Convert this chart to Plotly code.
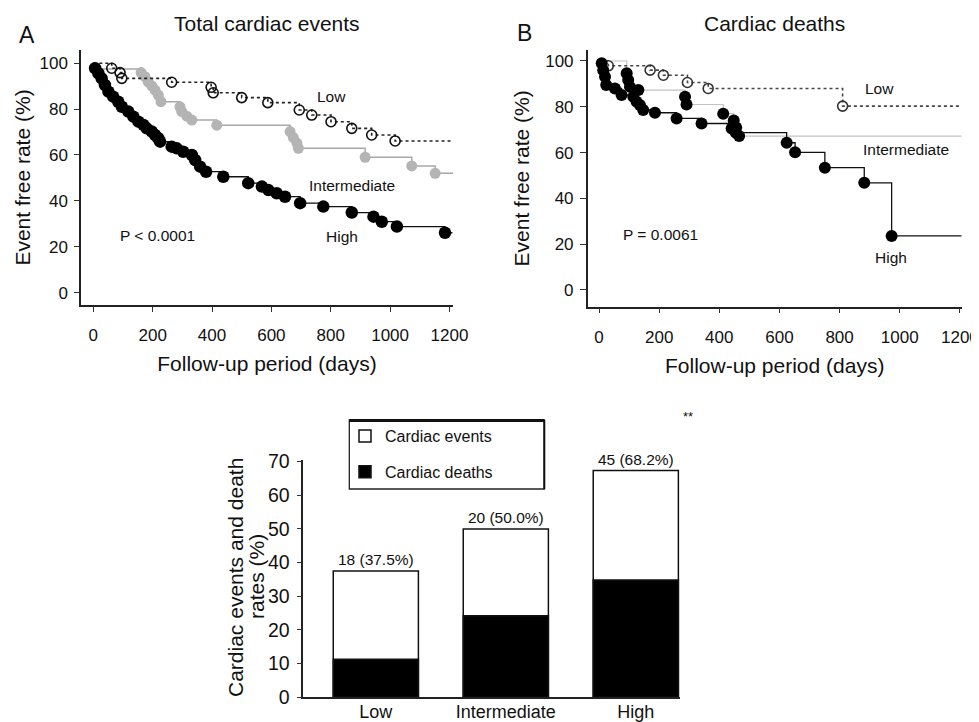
import plotly.graph_objects as go

# ---------------- data ----------------
# Panel A: Total cardiac events (Kaplan-Meier, event times in days and event-free rate %)
a_low_days = [62, 90, 96, 264, 397, 404, 500, 588, 694, 736, 801, 871, 938, 1017]
a_low_rate = [97.8, 95.9, 93.4, 91.7, 89.5, 87.1, 85.0, 82.8, 79.6, 77.4, 74.5, 71.6, 68.7, 66.1]
a_int_days = [10, 161, 174, 185, 197, 208, 219, 228, 292, 298, 315, 332, 416, 663, 674, 686, 691, 916, 1073, 1152]
a_int_rate = [97.5, 95.9, 94.1, 91.9, 90.1, 88.3, 86.1, 83.2, 81.0, 78.9, 76.9, 75.2, 73.0, 70.2, 67.6, 65.2, 62.9, 59.0, 55.2, 52.0]
a_high_days = [6, 17, 28, 39, 51, 67, 84, 96, 118, 135, 152, 169, 180, 197, 208, 219, 225, 264, 281, 303,
               332, 343, 360, 380, 438, 522, 568, 590, 618, 646, 697, 775, 871, 944, 972, 1023, 1185]
a_high_rate = [97.8, 95.6, 93.4, 90.5, 87.6, 85.4, 83.2, 81.0, 78.9, 76.7, 74.5, 73.1, 71.6, 70.2, 68.7, 67.3, 65.8, 63.6, 62.9, 61.4,
               60.0, 57.8, 54.9, 52.7, 50.5, 47.7, 46.2, 44.7, 43.3, 41.8, 39.0, 37.5, 34.9, 33.1, 30.9, 28.8, 26.1]
a_end_days = [1215, 1212, 1210]   # last follow-up (Low, Intermediate, High)

# Panel B: Cardiac deaths
b_low_days = [31, 170, 214, 294, 363, 810]
b_low_rate = [97.9, 96.0, 93.8, 90.6, 88.0, 80.3]
b_int_days = [92, 97, 103, 131, 286, 291, 413, 448, 456, 466]
b_int_rate = [94.6, 91.7, 88.7, 87.3, 84.4, 81.0, 77.0, 74.0, 71.0, 67.2]
b_high_days = [9, 14, 20, 24, 53, 75, 114, 125, 136, 147, 186, 258, 341, 441, 455, 624, 652, 751, 882, 973]
b_high_rate = [99.0, 96.0, 93.1, 89.5, 88.0, 85.1, 84.4, 82.2, 80.8, 78.6, 77.4, 74.9, 72.7, 70.5, 68.7, 64.3, 60.1, 53.4, 46.8, 23.6]
b_end_days = [1206, 1206, 1206]

# Bottom panel: rates (%)
groups = ["Low", "Intermediate", "High"]
event_rate = [37.5, 50.0, 67.3]
death_rate = [11.3, 24.2, 34.8]
event_labels = ["18 (37.5%)", "20 (50.0%)", "45 (68.2%)"]

x_ticks = [0, 200, 400, 600, 800, 1000, 1200]
y_ticks = [0, 20, 40, 60, 80, 100]
bar_ticks = [0, 10, 20, 30, 40, 50, 60, 70]

# ---------------- figure ----------------
W, H = 979, 722
OX, OY = 8, 8          # the page body adds an 8 px margin around the plot div
FONT = "Liberation Sans, Arial, Helvetica, sans-serif"
INK = "#111111"


def px(x):
    return (x - OX) / W


def py(y):
    return 1 - (y - OY) / H


def km_xy(days, rate, end):
    return [0] + list(days) + [end], [100] + list(rate) + [rate[-1]]


fig = go.Figure()


def add_km(days, rate, end, xa, ya, line_color, dash, lw, msym, msize, mcolor, mline):
    xs, ys = km_xy(days, rate, end)
    fig.add_trace(go.Scatter(x=xs, y=ys, mode="lines", line=dict(shape="hv", color=line_color, dash=dash, width=lw),
                             xaxis=xa, yaxis=ya, showlegend=False, hoverinfo="skip"))
    fig.add_trace(go.Scatter(x=days, y=rate, mode="markers",
                             marker=dict(symbol=msym, size=msize, color=mcolor, line=mline),
                             xaxis=xa, yaxis=ya, showlegend=False))


# Panel A
add_km(a_int_days, a_int_rate, a_end_days[1], "x", "y", "#a8a8a8", "solid", 1.5, "circle", 11, "#b4b4b4",
       dict(width=0))
add_km(a_low_days, a_low_rate, a_end_days[0], "x", "y", "#222222", "dot", 1.6, "circle-open", 10, "#111111",
       dict(width=1.6, color="#111111"))
add_km(a_high_days, a_high_rate, a_end_days[2], "x", "y", "#111111", "solid", 1.3, "circle", 12.5, "#000000",
       dict(width=0))

# Panel B
add_km(b_int_days, b_int_rate, b_end_days[1], "x2", "y2", "#c4c4c4", "solid", 1.2, "circle", 12, "#000000",
       dict(width=0))
add_km(b_low_days, b_low_rate, b_end_days[0], "x2", "y2", "#444444", "dot", 1.6, "circle-open", 10, "#333333",
       dict(width=1.6, color="#333333"))
add_km(b_high_days, b_high_rate, b_end_days[2], "x2", "y2", "#111111", "solid", 1.3, "circle", 12, "#000000",
       dict(width=0))

# Bottom bars
fig.add_trace(go.Bar(x=groups, y=event_rate, name="Cardiac events", width=0.655,
                     marker=dict(color="white", line=dict(color="#111111", width=1.5)),
                     text=event_labels, textposition="outside", cliponaxis=False, constraintext="none",
                     textfont=dict(size=15.5, color=INK, family=FONT),
                     xaxis="x3", yaxis="y3", legendgroup="ev"))
fig.add_trace(go.Bar(x=groups, y=death_rate, name="Cardiac deaths", width=0.655,
                     marker=dict(color="black", line=dict(color="#111111", width=1.5)),
                     xaxis="x3", yaxis="y3", legendgroup="de"))

common_x = dict(tickvals=x_ticks, ticks="outside", ticklen=5, tickwidth=1.2, tickcolor="#333",
                showline=True, linecolor="#222", linewidth=1.5, showgrid=False, zeroline=False,
                tickfont=dict(size=17, color=INK), ticklabelstandoff=9, automargin=False)
common_y = dict(tickvals=y_ticks, ticks="outside", tickwidth=1.2, tickcolor="#333",
                showline=True, linecolor="#222", linewidth=1.5, showgrid=False, zeroline=False,
                tickfont=dict(size=17, color=INK), ticklabelstandoff=3, automargin=False)

fig.update_layout(
    width=W, height=H, margin=dict(l=0, r=0, t=0, b=0, pad=0, autoexpand=False),
    paper_bgcolor="white", plot_bgcolor="white",
    font=dict(family=FONT, color=INK),
    barmode="overlay",
    showlegend=True,
    legend=dict(x=px(345), y=py(419), xanchor="left", yanchor="top", bgcolor="rgba(0,0,0,0)",
                borderwidth=0, font=dict(size=16, color=INK), tracegroupgap=12, traceorder="grouped"),
    xaxis=dict(domain=[px(81), px(453)], range=[-41.5, 1212], anchor="y",
               title=dict(text="Follow-up period (days)", font=dict(size=21), standoff=12), **common_x),
    yaxis=dict(domain=[py(305), py(50)], range=[-5.4, 105.75], anchor="x", ticklen=5,
               title=dict(text="Event free rate (%)", font=dict(size=21), standoff=3), **common_y),
    xaxis2=dict(domain=[px(587.7), px(961.7)], range=[-37.6, 1206], anchor="y2",
                title=dict(text="Follow-up period (days)", font=dict(size=21), standoff=12), **common_x),
    yaxis2=dict(domain=[py(306.7), py(50)], range=[-7.3, 104.8], anchor="x2", ticklen=6,
                title=dict(text="Event free rate (%)", font=dict(size=21), standoff=10), **common_y),
    xaxis3=dict(domain=[px(303.3), px(680)], range=[-0.558, 2.34], anchor="y3", type="category",
                showline=True, linecolor="#222", linewidth=1.5, ticks="", showgrid=False, zeroline=False,
                tickfont=dict(size=18, color=INK), ticklabelstandoff=-3, automargin=False),
    yaxis3=dict(domain=[py(697.3), py(459.5)], range=[0, 70.6], anchor="x3",
                tickvals=bar_ticks, ticks="outside", ticklen=5, tickwidth=1.2, tickcolor="#333",
                showline=True, linecolor="#222", linewidth=1.5, showgrid=False, zeroline=False,
                tickfont=dict(size=19.5, color=INK), ticklabelstandoff=3, automargin=False),
)

ann = []
C = dict(showarrow=False, xanchor="center", yanchor="middle")
# panel letters and titles
ann.append(dict(text="A", x=px(27), y=py(35), xref="paper", yref="paper", font=dict(size=23, color=INK), **C))
ann.append(dict(text="B", x=px(524), y=py(33), xref="paper", yref="paper", font=dict(size=23, color=INK), **C))
ann.append(dict(text="Total cardiac events", x=px(267), y=py(23), xref="paper", yref="paper",
                font=dict(size=21, color=INK), **C))
ann.append(dict(text="Cardiac deaths", x=px(774.7), y=py(23), xref="paper", yref="paper",
                font=dict(size=21, color=INK), **C))
# bottom panel y-axis title (two lines)
ann.append(dict(text="Cardiac events and death", x=px(235), y=py(578), xref="paper", yref="paper",
                textangle=-90, font=dict(size=21, color=INK), **C))
ann.append(dict(text="rates (%)", x=px(256), y=py(577), xref="paper", yref="paper",
                textangle=-90, font=dict(size=21, color=INK), **C))
# in-plot labels
lab = dict(font=dict(size=15.5, color=INK), **C)
ann += [
    dict(text="Low", x=804, y=85.3, xref="x", yref="y", **lab),
    dict(text="Intermediate", x=872, y=46.9, xref="x", yref="y", **lab),
    dict(text="High", x=838, y=24.3, xref="x", yref="y", **lab),
    dict(text="P < 0.0001", x=215, y=24.7, xref="x", yref="y", **lab),
    dict(text="Low", x=931, y=88.2, xref="x2", yref="y2", **lab),
    dict(text="Intermediate", x=1020, y=61.5, xref="x2", yref="y2", **lab),
    dict(text="High", x=971, y=14.0, xref="x2", yref="y2", **lab),
    dict(text="P = 0.0061", x=203, y=24.4, xref="x2", yref="y2", **lab),
]
ann.append(dict(text="**", x=px(688), y=py(416), xref="paper", yref="paper", font=dict(size=13, color=INK), **C))
fig.update_layout(annotations=ann)

# legend frame (thick top rule, as in the original)
fig.add_shape(type="rect", xref="paper", yref="paper", x0=px(349.3), x1=px(544.3), y0=py(489), y1=py(420),
              line=dict(color="#222", width=1.3), fillcolor="white", layer="below")
fig.add_shape(type="line", xref="paper", yref="paper", x0=px(349.3), x1=px(544.3), y0=py(420.5), y1=py(420.5),
              line=dict(color="#111", width=3))
fig.add_shape(type="line", xref="paper", yref="paper", x0=px(544.3), x1=px(544.3), y0=py(489), y1=py(420),
              line=dict(color="#111", width=2))

fig.write_html("out.html")
